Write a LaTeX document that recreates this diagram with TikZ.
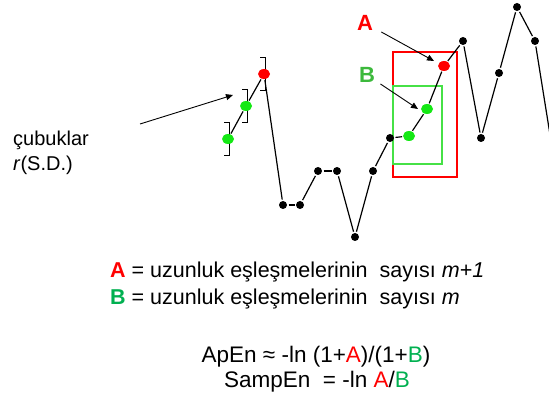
\documentclass[tikz,border=0pt]{standalone}
\usepackage{fontspec}
\setmainfont{Liberation Sans}
\usetikzlibrary{shapes.geometric,arrows.meta}

\definecolor{dotgreen}{RGB}{20,232,20}
\definecolor{boxgreen}{RGB}{70,225,70}
\definecolor{labgreen}{RGB}{60,185,60}
\definecolor{txtgreen}{RGB}{0,176,80}
\definecolor{ptred}{RGB}{255,0,0}

\tikzset{
	txt/.style={inner sep=0pt,font=\fontsize{20}{24}\selectfont},
	deftxt/.style={inner sep=0pt,font=\fontsize{21.5}{24}\selectfont},
	bdot/.style={circle,fill=black,inner sep=0pt,minimum size=8pt,outer sep=1.5pt},
	gdot/.style={ellipse,fill=dotgreen,inner sep=0pt,minimum width=12pt,minimum height=10pt,outer sep=1pt},
	rdot/.style={ellipse,fill=ptred,inner sep=0pt,minimum width=12pt,minimum height=10pt,outer sep=1pt},
	trace/.style={line width=1.2pt},
	errbar/.style={line width=1pt},
	pointer/.style={line width=0.9pt,-{Triangle[length=7pt,width=6pt]}}
}

\begin{document}
\begin{tikzpicture}[x=1pt,y=-1pt]
\useasboundingbox (0,0) rectangle (549,398);

\begin{scope}
	\coordinate (s1) at (228,139);
	\coordinate (s2) at (246,106);
	\coordinate (s3) at (264,74);
	\coordinate (s4) at (283,205);
	\coordinate (s5) at (300,205);
	\coordinate (s6) at (318,171);
	\coordinate (s7) at (337,171);
	\coordinate (s8) at (355,237);
	\coordinate (s9) at (373,171);
	\coordinate (s10) at (390,138);
	\coordinate (s11) at (409,136);
	\coordinate (s12) at (427,109);
	\coordinate (s13) at (444,66);
	\coordinate (s14) at (463,41);
	\coordinate (s15) at (481,138);
	\coordinate (s16) at (499,73);
	\coordinate (s17) at (517,7);
	\coordinate (s18) at (535,41);
	%
	\coordinate (barTail) at (140,124);
	\coordinate (barTip) at (233,95);
	\coordinate (tipA) at (434,61);
	\coordinate (tipB) at (418,109);
\end{scope}

% error bars
\foreach \i in {1,2,3}
	\draw[errbar] ([xshift=-4pt,yshift=16pt]s\i) -- ++(5,0) -- ++(0,33) -- ++(-5,0);

% windows
\draw[ptred,line width=1.4pt] (393,52) rectangle (457,177);
\draw[boxgreen,line width=1.4pt] (393,86) rectangle (442,164);

% points
\foreach \i/\s in {1/gdot,2/gdot,3/rdot,4/bdot,5/bdot,6/bdot,7/bdot,8/bdot,9/bdot,
	10/bdot,11/gdot,12/gdot,13/rdot,14/bdot,15/bdot,16/bdot,17/bdot,18/bdot}
	\node[\s] (p\i) at (s\i) {};
\coordinate (p19) at (556,172);

\foreach \i [evaluate=\i as \j using int(\i+1)] in {1,...,18}
	\draw[trace] (p\i) -- (p\j);

% labels
\node[txt,font=\fontsize{22}{24}\selectfont\bfseries,text=ptred,inner sep=2pt] (labA) at (365,23) {A};
\node[txt,font=\fontsize{22}{24}\selectfont\bfseries,text=labgreen,inner sep=2pt] (labB) at (367,75) {B};
\draw[pointer,shorten <=7pt] (labA) -- (tipA);
\draw[pointer,shorten <=4pt] (labB) -- (tipB);

\node[txt,anchor=base west] (cub) at (13,146) {çubuklar};
\node[txt,anchor=base west] (cubsd) at (13,171) {\textit{r}(S.D.)};
\draw[pointer] (barTail) -- (barTip);

\node[deftxt,anchor=base west] (defA) at (110,277)
	{\textbf{\textcolor{ptred}{A}} = uzunluk\ eşleşmelerinin\ \ sayısı \textit{m+1}};
\node[deftxt,anchor=base west] (defB) at (110,304)
	{\textbf{\textcolor{txtgreen}{B}} = uzunluk\ eşleşmelerinin\ \ sayısı \textit{m}};

\node[deftxt,font=\fontsize{22.5}{24}\selectfont,anchor=base] (apen) at (316,362)
	{ApEn ≈ -ln (1+\textcolor{ptred}{A})/(1+\textcolor{txtgreen}{B})};
\node[deftxt,font=\fontsize{22.5}{24}\selectfont,anchor=base] (sampen) at (317,387)
	{SampEn\ \ = -ln \textcolor{ptred}{A}/\textcolor{txtgreen}{B}};

\end{tikzpicture}
\end{document}
